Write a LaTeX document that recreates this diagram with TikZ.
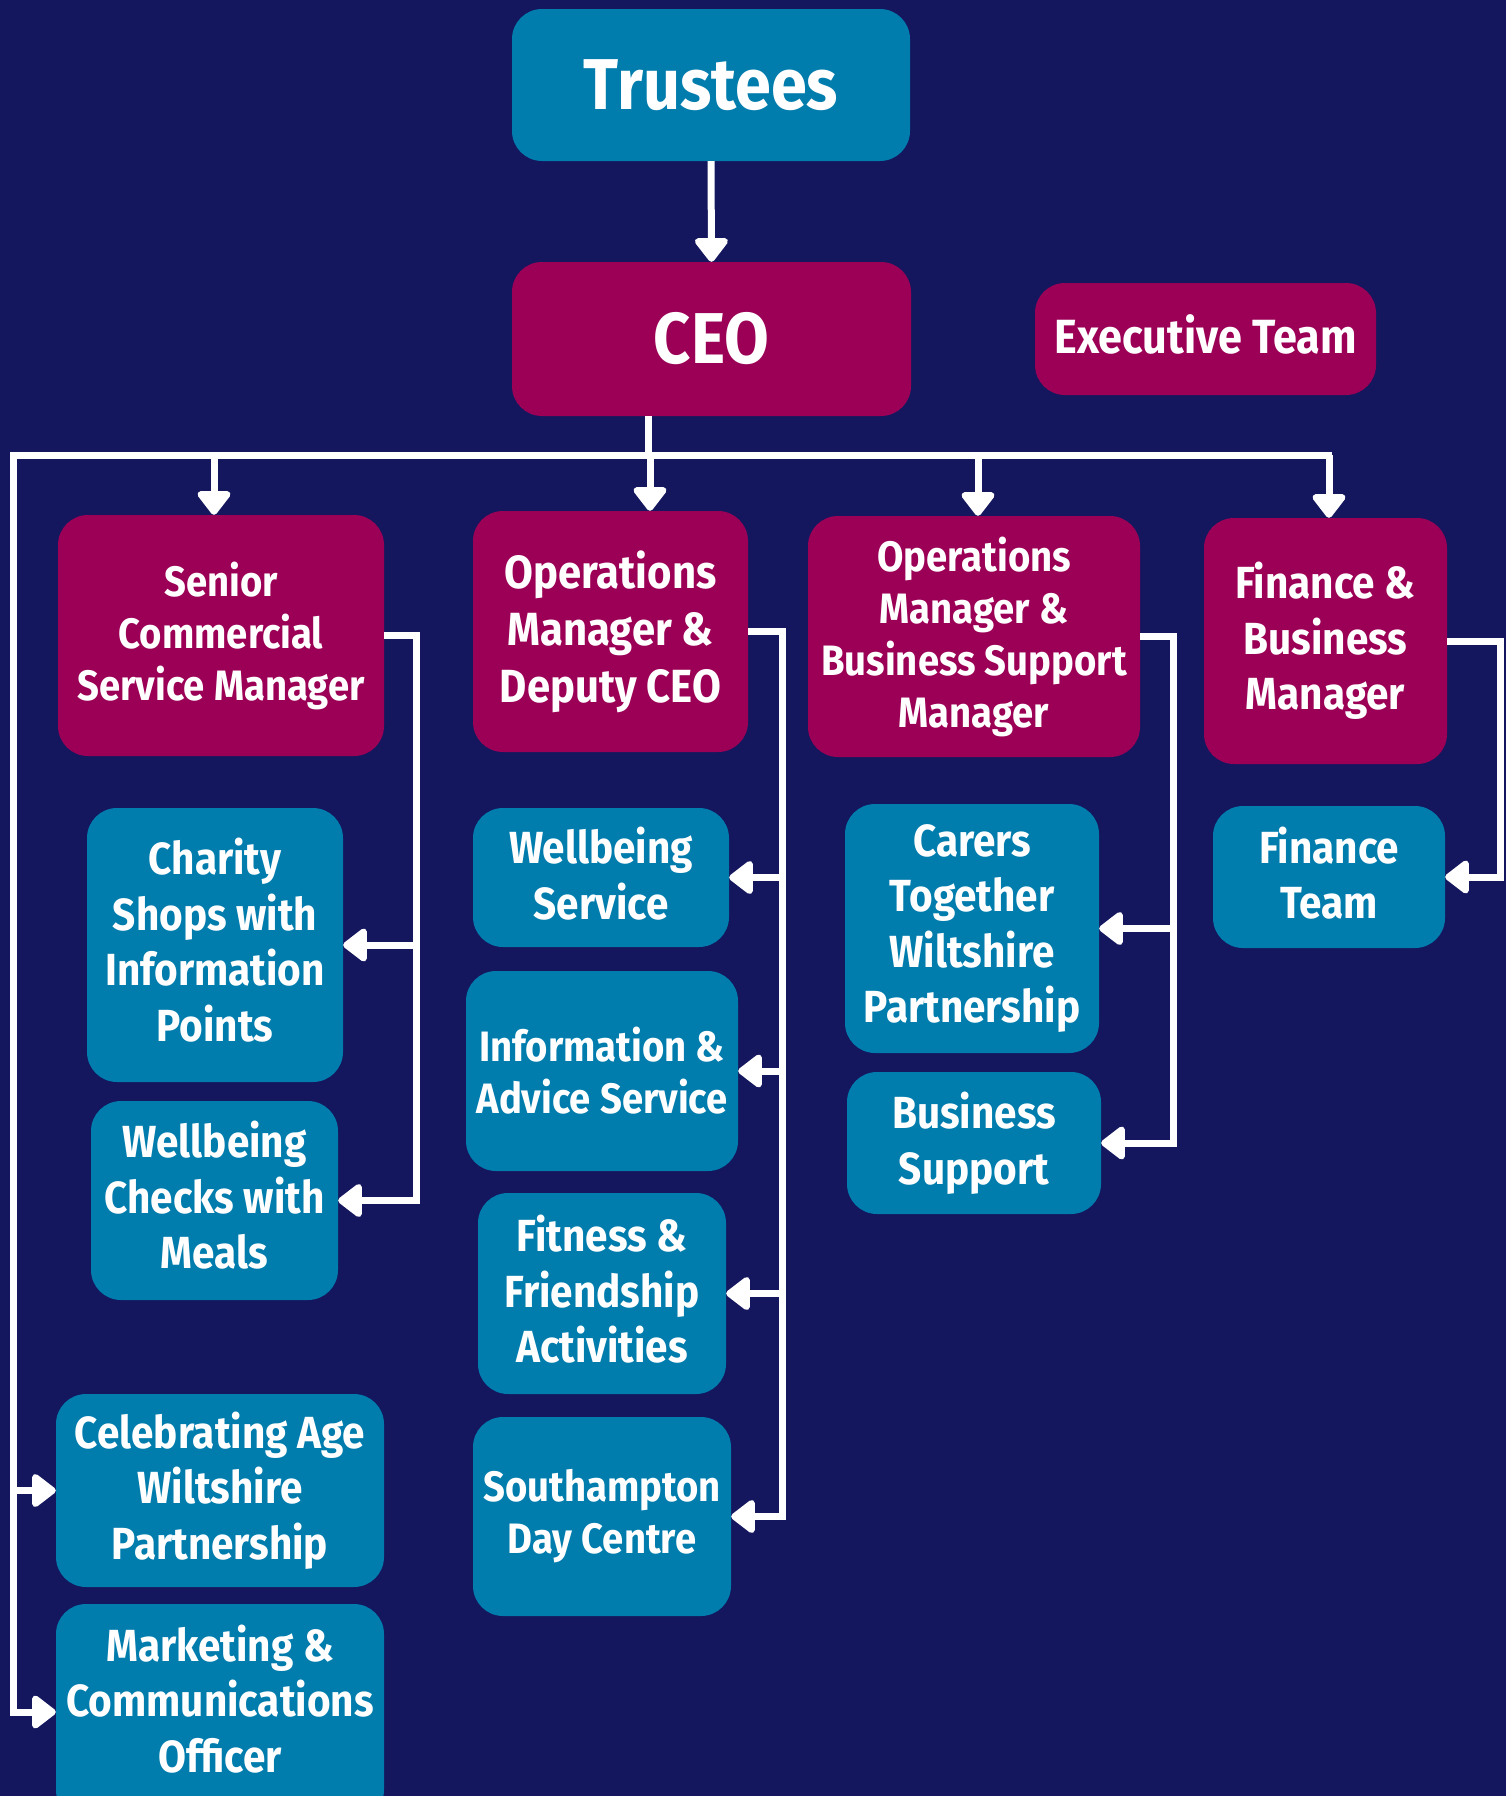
\documentclass[tikz,border=0pt]{standalone}
\usepackage{fontspec}
\setmainfont{Fira Sans}[FakeStretch=0.9]
\usetikzlibrary{arrows.meta}
\definecolor{navybg}{RGB}{20,22,94}
\definecolor{tealc}{RGB}{0,124,173}
\definecolor{magc}{RGB}{156,0,86}
\tikzset{
  box/.style={rounded corners=30pt, text=white, align=center, inner sep=0pt,
    font=\bfseries\fontsize{45}{55.5}\selectfont},
  tealbox/.style={box, fill=tealc},
  magbox/.style={box, fill=magc},
  txt/.style={text=white, align=center, inner sep=0pt,
    font=\bfseries\fontsize{45}{55.5}\selectfont},
  sz/.style 2 args={minimum width=#1pt, minimum height=#2pt},
  smallfont/.style={font=\bfseries\fontsize{42.5}{52}\selectfont},
  conn/.style={draw=white, line width=7pt},
  arr/.style={conn, -{Triangle[length=26pt,width=38pt,round]}}
}
\begin{document}
\begin{tikzpicture}[x=1pt,y=-1pt]
\fill[navybg] (0,0) rectangle (1506,1796);
\useasboundingbox (0,0) rectangle (1506,1796);

% top
\node[tealbox, sz={398}{152}, font=\bfseries\fontsize{72}{80}\selectfont] (trustees) at (711,85) {Trustees};
\node[magbox, sz={399}{154}, font=\bfseries\fontsize{72}{80}\selectfont] (ceo) at (711.5,339) {CEO};
\node[magbox, sz={341}{112}] (exec) at (1205.5,339) {};
\node[txt, font=\bfseries\fontsize{48}{56}\selectfont] (execT) at ([yshift=5pt]exec.center) {Executive Team};

% managers
\node[magbox, sz={326}{241}, smallfont] (scsm) at (221,635.5) {Senior\\Commercial\\Service Manager};
\node[magbox, sz={275}{241}, font=\bfseries\fontsize{46.5}{57}\selectfont] (omd) at (610.5,631.5) {Operations\\Manager \&\\Deputy CEO};
\node[magbox, sz={332}{241}, smallfont] (obsm) at (974,636.5) {Operations\\Manager \&\\Business Support\\Manager};
\node[magbox, sz={243}{246}] (fbm) at (1325.5,641) {Finance \&\\Business\\Manager};

% senior commercial children
\node[tealbox, sz={256}{274}] (charity) at (215,945) {};
\node[txt] (charityT) at ([yshift=5pt]charity.center) {Charity\\Shops with\\Information\\Points};
\node[tealbox, sz={247}{199}] (wcheck) at (214.5,1200.5) {};
\node[txt] (wcheckT) at ([yshift=5pt]wcheck.center) {Wellbeing\\Checks with\\Meals};

% ops & deputy children
\node[tealbox, sz={256}{139}] (wserv) at (601,877.5) {};
\node[txt] (wservT) at ([yshift=4pt]wserv.center) {Wellbeing\\Service};
\node[tealbox, sz={272}{200}, smallfont] (info) at (602,1071) {Information \&\\Advice Service};
\node[tealbox, sz={248}{201}] (fit) at (602,1293.5) {};
\node[txt] (fitT) at ([yshift=4pt]fit.center) {Fitness \&\\Friendship\\Activities};
\node[tealbox, sz={258}{199}, smallfont] (south) at (602,1516.5) {Southampton\\Day Centre};

% ops & business support children
\node[tealbox, sz={254}{249}] (carers) at (972,928.5) {Carers\\Together\\Wiltshire\\Partnership};
\node[tealbox, sz={254}{142}] (bsup) at (974,1143) {Business\\Support};

% finance
\node[tealbox, sz={232}{142}] (fteam) at (1329,877) {};
\node[txt] (fteamT) at ([yshift=4pt]fteam.center) {Finance\\Team};

% direct reports
\node[tealbox, sz={328}{193}] (celeb) at (220,1490.5) {Celebrating Age\\Wiltshire\\Partnership};
\node[tealbox, sz={328}{216}] (market) at (220,1712) {};
\node[txt] (marketT) at (220,1699) {Marketing \&\\Communications\\Officer};

% connectors
\coordinate (busL) at (13,455);
\coordinate (busR) at (1332,455);

\draw[arr] (trustees.south) -- (ceo.north);
\draw[conn] ([xshift=-63.5pt]ceo.south) -- ([xshift=-63.5pt]ceo.south |- busL);
\draw[arr] (busR) -- (busL) |- (market.west);
\draw[arr] (celeb.west -| busL) -- (celeb.west);

\draw[arr] ([xshift=-7pt]scsm.north |- busL) -- ([xshift=-7pt]scsm.north);
\draw[arr] ([xshift=39.5pt]omd.north |- busL) -- ([xshift=39.5pt]omd.north);
\draw[arr] ([xshift=4pt]obsm.north |- busL) -- ([xshift=4pt]obsm.north);
\draw[arr] ([xshift=3.5pt]fbm.north |- busL) -- ([xshift=3.5pt]fbm.north);

% senior commercial branch
\path (scsm.east) ++(32,0) coordinate (v1);
\draw[arr] (scsm.east) -- (v1) |- (wcheck.east);
\draw[arr] (charity.east -| v1) -- (charity.east);

% ops & deputy branch
\path (omd.east) ++(34,0) coordinate (v2);
\draw[arr] (omd.east) -- (v2) |- (south.east);
\draw[arr] (wserv.east -| v2) -- (wserv.east);
\draw[arr] (info.east -| v2) -- (info.east);
\draw[arr] (fit.east -| v2) -- (fit.east);

% ops & business support branch
\path (obsm.east) ++(33,0) coordinate (v3);
\draw[arr] (obsm.east) -- (v3) |- (bsup.east);
\draw[arr] (carers.east -| v3) -- (carers.east);

% finance branch
\path (fbm.east) ++(53,0) coordinate (v4);
\draw[arr] (fbm.east) -- (v4) |- (fteam.east);
\end{tikzpicture}
\end{document}
